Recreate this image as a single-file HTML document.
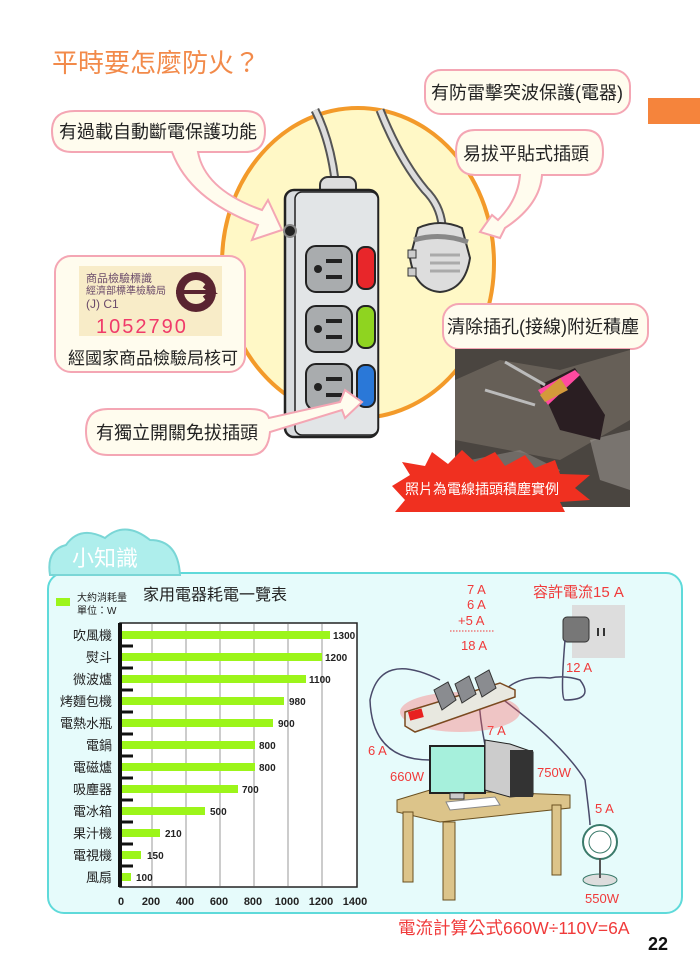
<!DOCTYPE html>
<html><head><meta charset="utf-8"><style>
body{margin:0;background:#fff}
svg{display:block}
text{font-family:"Liberation Sans","Noto Sans CJK TC",sans-serif}
</style></head><body>
<svg width="700" height="980" viewBox="0 0 700 980" xmlns="http://www.w3.org/2000/svg">
<text x="52" y="72" font-size="26" fill="#f28a4a">平時要怎麼防火？</text>
<rect x="648" y="98" width="52" height="26" fill="#f5843c"/>

<ellipse cx="358" cy="263" rx="136" ry="155" fill="#fff8c6" stroke="#f39a2a" stroke-width="4"/>
<path d="M315 110 Q330 140 335 180" stroke="#555" stroke-width="9" fill="none"/>
<path d="M315 110 Q330 140 335 180" stroke="#ddd" stroke-width="5" fill="none"/>
<path d="M380 110 Q400 160 425 190 Q440 205 442 225" stroke="#555" stroke-width="9" fill="none"/>
<path d="M380 110 Q400 160 425 190 Q440 205 442 225" stroke="#ddd" stroke-width="5" fill="none"/>
<path d="M418 228 Q440 218 462 228 L470 258 Q465 290 440 292 Q415 290 410 258 Z" fill="#ddd" stroke="#333" stroke-width="2"/>
<rect x="408" y="250" width="8" height="8" fill="#ccc" stroke="#333"/>
<rect x="408" y="268" width="8" height="8" fill="#ccc" stroke="#333"/>
<path d="M414 240 Q440 232 468 242" stroke="#888" stroke-width="5" fill="none"/>
<line x1="430" y1="255" x2="460" y2="255" stroke="#aaa" stroke-width="3"/>
<line x1="430" y1="263" x2="460" y2="263" stroke="#aaa" stroke-width="3"/>
<line x1="430" y1="271" x2="460" y2="271" stroke="#aaa" stroke-width="3"/>
<rect x="320" y="177" width="36" height="20" rx="8" fill="#ddd" stroke="#333" stroke-width="2"/>
<rect x="285" y="190" width="93" height="247" rx="9" fill="#d9dcdf" stroke="#222" stroke-width="2.5"/>
<rect x="295" y="192" width="83" height="243" rx="7" fill="#e2e5e7" stroke="#222" stroke-width="1.5"/>
<circle cx="290" cy="231" r="6" fill="#222" stroke="#888" stroke-width="2"/>
<g stroke="#222" stroke-width="2">
<rect x="306" y="246" width="46" height="46" rx="10" fill="#a9acae"/>
<rect x="306" y="306" width="46" height="46" rx="10" fill="#a9acae"/>
<rect x="306" y="364" width="46" height="46" rx="10" fill="#a9acae"/>
<rect x="357" y="247" width="18" height="42" rx="8" fill="#e8262a"/>
<rect x="357" y="306" width="18" height="42" rx="8" fill="#8fd420"/>
<rect x="357" y="365" width="18" height="42" rx="8" fill="#2a78d8"/>
</g>
<g fill="#222">
<circle cx="318" cy="269" r="4"/><rect x="326" y="259" width="16" height="4"/><rect x="326" y="275" width="16" height="4"/>
<circle cx="318" cy="329" r="4"/><rect x="326" y="319" width="16" height="4"/><rect x="326" y="335" width="16" height="4"/>
<circle cx="318" cy="387" r="4"/><rect x="326" y="377" width="16" height="4"/><rect x="326" y="393" width="16" height="4"/>
</g>

<g fill="#fffcee" stroke="#f4a6b4" stroke-width="2">
<path d="M75 111 H245 Q265 111 265 131 Q265 152 245 152 H198 Q205 190 262 210 L268 200 L282 230 L252 240 L258 225 Q190 200 172 152 H72 Q52 152 52 131 Q52 111 75 111 Z"/>
<rect x="55" y="256" width="190" height="116" rx="16"/>
<rect x="425" y="70" width="205" height="44" rx="16"/>
<path d="M475 130 H585 Q603 130 603 152 Q603 175 585 175 H542 Q540 205 505 228 L500 238 L480 232 L492 215 L498 220 Q518 200 520 175 H475 Q456 175 456 152 Q456 130 475 130 Z"/>
<rect x="443" y="304" width="205" height="45" rx="16"/>
<path d="M108 409 H250 Q266 409 269 418 L340 402 L345 390 L362 402 L345 418 L342 410 L270 432 Q268 455 250 455 H108 Q86 455 86 431 Q86 409 108 409 Z"/>
</g>
<text x="59" y="138" font-size="18" fill="#222">有過載自動斷電保護功能</text>
<text x="431" y="99" font-size="18" fill="#222">有防雷擊突波保護(電器)</text>
<text x="463" y="160" font-size="18" fill="#222">易拔平貼式插頭</text>
<text x="447" y="333" font-size="18" fill="#222">清除插孔(接線)附近積塵</text>
<text x="96" y="439" font-size="18" fill="#222">有獨立開關免拔插頭</text>
<rect x="79" y="266" width="143" height="70" fill="#f8ecc8"/>
<text x="86" y="282" font-size="11" fill="#6a4a6a">商品檢驗標識</text>
<text x="86" y="294" font-size="10" fill="#6a4a6a">經濟部標準檢驗局</text>
<text x="86" y="308" font-size="12" fill="#6a4a6a">(J) C1</text>
<text x="96" y="333" font-size="20" fill="#f03a6a" letter-spacing="2">1052790</text>
<circle cx="196" cy="292" r="20" fill="#5a2430"/><circle cx="196" cy="292" r="12" fill="#f8ecc8"/>
<path d="M176 292 H212 L204 286 M212 292 L204 298" stroke="#5a2430" stroke-width="4" fill="none"/>
<text x="68" y="364" font-size="17" fill="#222">經國家商品檢驗局核可</text>
<rect x="455" y="349" width="175" height="158" fill="#4a4540"/>
<path d="M455 380 L500 360 L560 370 L630 350 V420 L560 460 L455 440 Z" fill="#7a7268" opacity=".6"/>
<path d="M470 460 L520 450 L560 470 L540 500 L480 495 Z" fill="#8a8580" opacity=".6"/>
<path d="M590 440 L630 430 L630 490 L600 480 Z" fill="#9a9590" opacity=".6"/>
<path d="M540 385 L575 368 L605 415 L600 440 L560 430 Z" fill="#2a1e22"/>
<path d="M538 390 L575 370 L580 375 L548 405 Z" fill="#ff4aa0"/>
<path d="M540 395 L560 378 L568 390 L545 402 Z" fill="#d49a3a"/>
<line x1="505" y1="362" x2="545" y2="385" stroke="#bbb" stroke-width="3"/>
<line x1="485" y1="390" x2="535" y2="405" stroke="#bbb" stroke-width="3"/>
<path d="M392 486 L410 475 L402 462 L425 466 L432 452 L448 464 L462 450 L475 462 L495 452 L505 466 L525 455 L535 468 L555 460 L560 474 L590 475 L575 488 L590 500 L560 502 L565 512 L395 512 L405 500 Z" fill="#f03020"/>
<text x="405" y="494" font-size="14" fill="#fff">照片為電線插頭積塵實例</text>

<rect x="48" y="573" width="634" height="340" rx="16" fill="#e6fbfb" stroke="#5fdada" stroke-width="2"/>
<path d="M50 575 Q46 550 66 545 Q80 525 105 538 Q125 520 150 540 Q178 540 180 575 Z" fill="#aeeeec" stroke="#7ad6d6" stroke-width="2"/>
<text x="72" y="566" font-size="22" fill="#fff">小知識</text>

<rect x="56" y="598" width="14" height="8" fill="#9cf51a"/>
<text x="77" y="601" font-size="10" fill="#222">大約消耗量</text>
<text x="77" y="614" font-size="10" fill="#222">單位：W</text>
<text x="143" y="600" font-size="16" fill="#222">家用電器耗電一覽表</text>
<rect x="120" y="623" width="237" height="264" fill="#fff" stroke="#222" stroke-width="1.5"/>
<g stroke="#999" stroke-width="1">
<line x1="152" y1="624" x2="152" y2="886"/><line x1="186" y1="624" x2="186" y2="886"/><line x1="220" y1="624" x2="220" y2="886"/><line x1="254" y1="624" x2="254" y2="886"/><line x1="288" y1="624" x2="288" y2="886"/><line x1="322" y1="624" x2="322" y2="886"/>
</g>
<line x1="120" y1="623" x2="120" y2="887" stroke="#111" stroke-width="4"/>
<g stroke="#111" stroke-width="3">
<line x1="120" y1="646" x2="133" y2="646"/><line x1="120" y1="668" x2="133" y2="668"/><line x1="120" y1="690" x2="133" y2="690"/><line x1="120" y1="712" x2="133" y2="712"/><line x1="120" y1="734" x2="133" y2="734"/><line x1="120" y1="756" x2="133" y2="756"/><line x1="120" y1="778" x2="133" y2="778"/><line x1="120" y1="800" x2="133" y2="800"/><line x1="120" y1="822" x2="133" y2="822"/><line x1="120" y1="844" x2="133" y2="844"/><line x1="120" y1="866" x2="133" y2="866"/>
</g>
<g fill="#9cf51a">
<rect x="122" y="631" width="208" height="8"/><rect x="122" y="653" width="200" height="8"/><rect x="122" y="675" width="184" height="8"/><rect x="122" y="697" width="162" height="8"/><rect x="122" y="719" width="151" height="8"/><rect x="122" y="741" width="133" height="8"/><rect x="122" y="763" width="133" height="8"/><rect x="122" y="785" width="116" height="8"/><rect x="122" y="807" width="83" height="8"/><rect x="122" y="829" width="38" height="8"/><rect x="122" y="851" width="19" height="8"/><rect x="122" y="873" width="9" height="8"/>
</g>
<g font-size="10" font-weight="bold" fill="#222">
<text x="333" y="639">1300</text><text x="325" y="661">1200</text><text x="309" y="683">1100</text><text x="289" y="705">980</text><text x="278" y="727">900</text><text x="259" y="749">800</text><text x="259" y="771">800</text><text x="242" y="793">700</text><text x="210" y="815">500</text><text x="165" y="837">210</text><text x="147" y="859">150</text><text x="136" y="881">100</text>
</g>
<g font-size="13" fill="#222" text-anchor="end">
<text x="112" y="640">吹風機</text><text x="112" y="662">熨斗</text><text x="112" y="684">微波爐</text><text x="112" y="706">烤麵包機</text><text x="112" y="728">電熱水瓶</text><text x="112" y="750">電鍋</text><text x="112" y="772">電磁爐</text><text x="112" y="794">吸塵器</text><text x="112" y="816">電冰箱</text><text x="112" y="838">果汁機</text><text x="112" y="860">電視機</text><text x="112" y="882">風扇</text>
</g>
<g font-size="11" font-weight="bold" fill="#222" text-anchor="middle">
<text x="121" y="905">0</text><text x="151" y="905">200</text><text x="185" y="905">400</text><text x="219" y="905">600</text><text x="253" y="905">800</text><text x="287" y="905">1000</text><text x="321" y="905">1200</text><text x="355" y="905">1400</text>
</g>

<g font-size="13" fill="#f03a3a">
<text x="467" y="594">7 A</text><text x="467" y="609">6 A</text><text x="458" y="625">+5 A</text>
<text x="461" y="650">18 A</text>
<text x="533" y="597" font-size="15">容許電流15 A</text>
<text x="566" y="672">12 A</text><text x="487" y="735">7 A</text><text x="368" y="755">6 A</text>
<text x="390" y="781">660W</text><text x="537" y="777">750W</text><text x="595" y="813">5 A</text><text x="585" y="903">550W</text>
</g>
<line x1="450" y1="631" x2="495" y2="631" stroke="#f03a3a" stroke-dasharray="1.5 1.5"/>
<rect x="572" y="605" width="53" height="53" fill="#ddd"/>
<rect x="597" y="628" width="2" height="8" fill="#333"/><rect x="603" y="628" width="2" height="8" fill="#333"/>
<rect x="563" y="617" width="26" height="25" rx="4" fill="#777" stroke="#333"/>
<g stroke="#4a4a6a" stroke-width="1.5" fill="none">
<path d="M565 640 Q560 700 565 700 Q595 700 580 680 Q565 675 550 678 Q520 675 505 690"/>
<path d="M440 680 Q380 650 370 700 Q372 760 430 760"/>
<path d="M478 690 Q480 720 485 745"/>
<path d="M490 690 Q560 740 585 780 Q590 820 590 825"/>
</g>
<ellipse cx="460" cy="712" rx="60" ry="20" fill="#ff6060" opacity=".35"/>
<path d="M405 712 L500 683 L515 690 L515 697 L415 732 L405 726 Z" fill="#e8e8e0" stroke="#7a4a20" stroke-width="1.5"/>
<rect x="409" y="710" width="14" height="9" fill="#e82020" transform="rotate(-15 416 715)"/>
<g fill="#8a8c90" stroke="#333">
<path d="M434 690 L448 682 L456 700 L442 710 Z"/><path d="M455 684 L469 676 L476 694 L462 703 Z"/><path d="M475 678 L489 670 L496 688 L482 697 Z"/>
</g>
<path d="M397 800 L430 790 L570 795 L570 808 L440 822 L397 812 Z" fill="#dcc48a" stroke="#6a5020"/>
<g fill="#dcc48a" stroke="#6a5020">
<rect x="403" y="812" width="10" height="70"/><rect x="443" y="822" width="12" height="78"/><rect x="552" y="805" width="9" height="70"/>
</g>
<rect x="430" y="746" width="55" height="47" fill="#a6f0dc" stroke="#222" stroke-width="2"/>
<rect x="450" y="793" width="14" height="6" fill="#ccc" stroke="#333"/>
<path d="M446 802 L495 797 L500 805 L450 810 Z" fill="#fff" stroke="#888"/>
<path d="M485 740 L510 744 L533 752 L533 795 L510 797 L485 790 Z" fill="#ccc" stroke="#222"/>
<rect x="510" y="750" width="23" height="47" fill="#333"/>
<circle cx="600" cy="842" r="17" fill="#fff" stroke="#3a7a6a" stroke-width="2"/>
<circle cx="600" cy="842" r="11" fill="none" stroke="#3a7a6a"/>
<ellipse cx="600" cy="880" rx="17" ry="6" fill="#ddd" stroke="#3a7a6a"/>
<line x1="600" y1="858" x2="600" y2="878" stroke="#555" stroke-width="2"/>
<text x="398" y="934" font-size="17.5" fill="#f03a3a">電流計算公式660W÷110V=6A</text>
<text x="648" y="950" font-size="18" font-weight="bold" fill="#111">22</text>
</svg>
</body></html>
